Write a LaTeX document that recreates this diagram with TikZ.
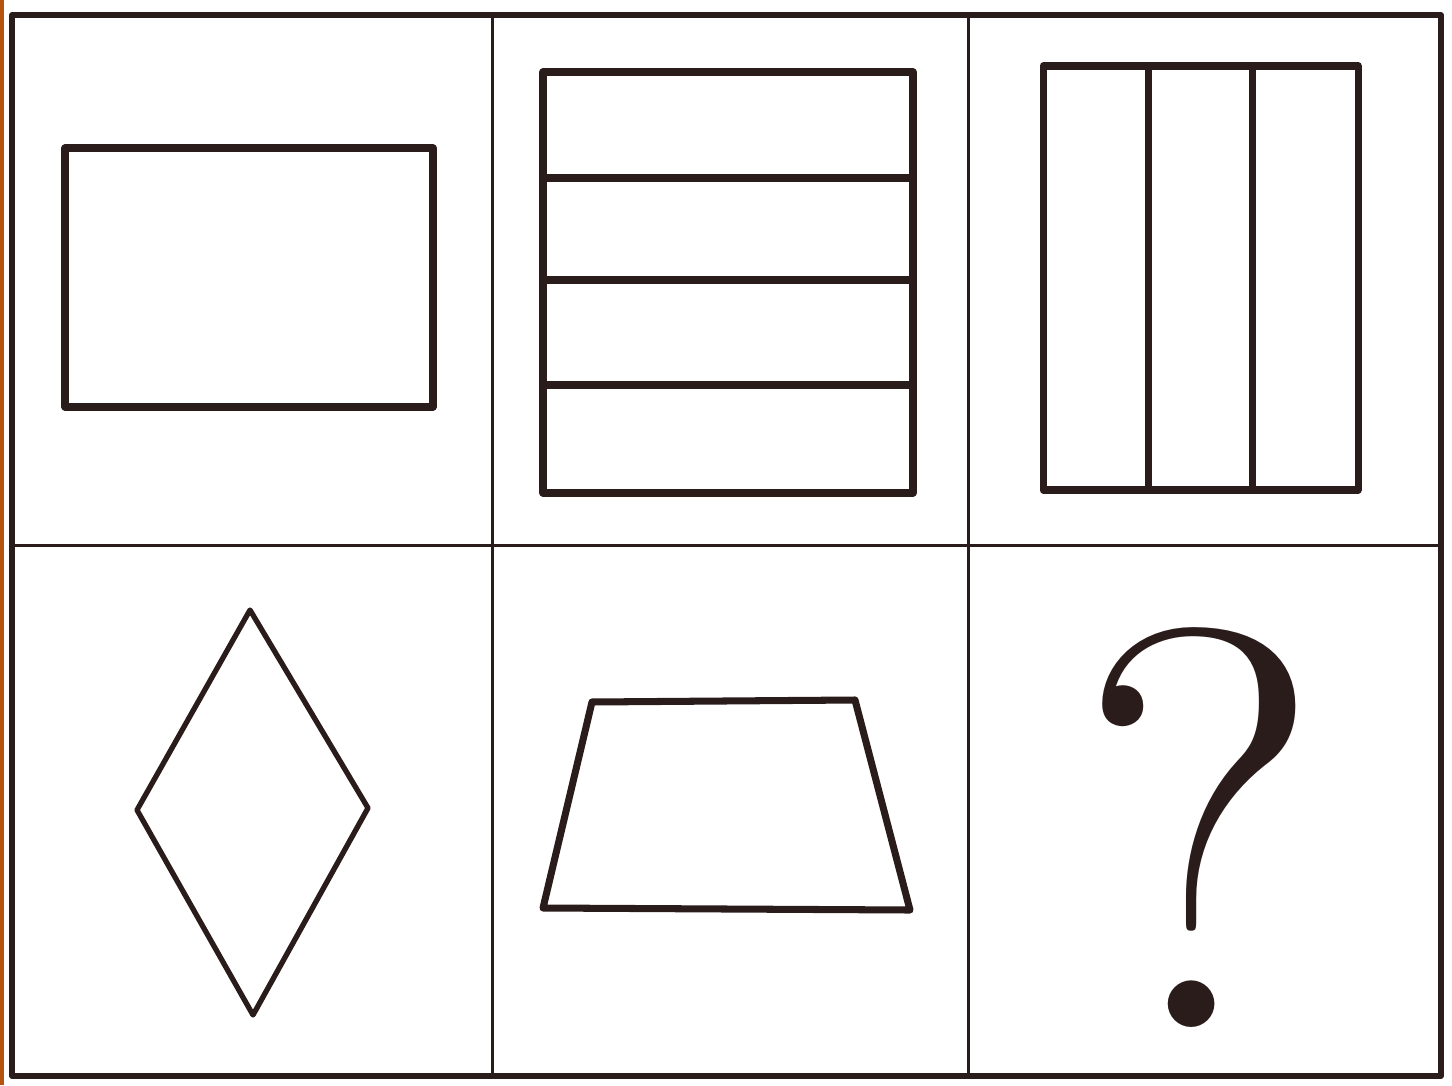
\documentclass[tikz,border=0pt]{standalone}
\usepackage{tikz}
\definecolor{cInk}{HTML}{2A1C1A}
\definecolor{cEdge}{HTML}{B5530F}

\begin{document}
\begin{tikzpicture}[x=0.01cm, y=-0.01cm, line join=round, line cap=round,
  frame/.style={draw=cInk, line width=1.5pt},
  grid/.style={draw=cInk, line width=0.85pt},
  fig/.style={draw=cInk, line width=2pt},
  thin/.style={draw=cInk, line width=1.5pt}]
\useasboundingbox (0,0) rectangle (1452,1085);
\fill[cEdge] (0,0) rectangle (4,1085);
% the 2 x 3 grid
\draw[frame] (12,15) rectangle (1441,1076);
\draw[grid] (492,15) -- (492,1076);
\draw[grid] (968,15) -- (968,1076);
\draw[grid] (12,545) -- (1441,545);
% top row
\draw[fig] (65,148) rectangle (433,407);
\draw[fig] (543,72) rectangle (913,493);
\foreach \y in {178,280,385} \draw[fig] (543,\y) -- (913,\y);
\draw[fig] (1043,66) rectangle (1358,490);
\foreach \x in {1148,1252} \draw[fig] (\x,66) -- (\x,490);
% bottom row
\draw[thin] (250,610) -- (368,808) -- (253,1015) -- (137,810) -- cycle;
\draw[fig] (592,702) -- (855,700) -- (910,910) -- (543,908) -- cycle;
\node[text=cInk, inner sep=0pt, font=\fontsize{162}{162}\selectfont] (q) at (1200,828) {?};
\end{tikzpicture}
\end{document}
